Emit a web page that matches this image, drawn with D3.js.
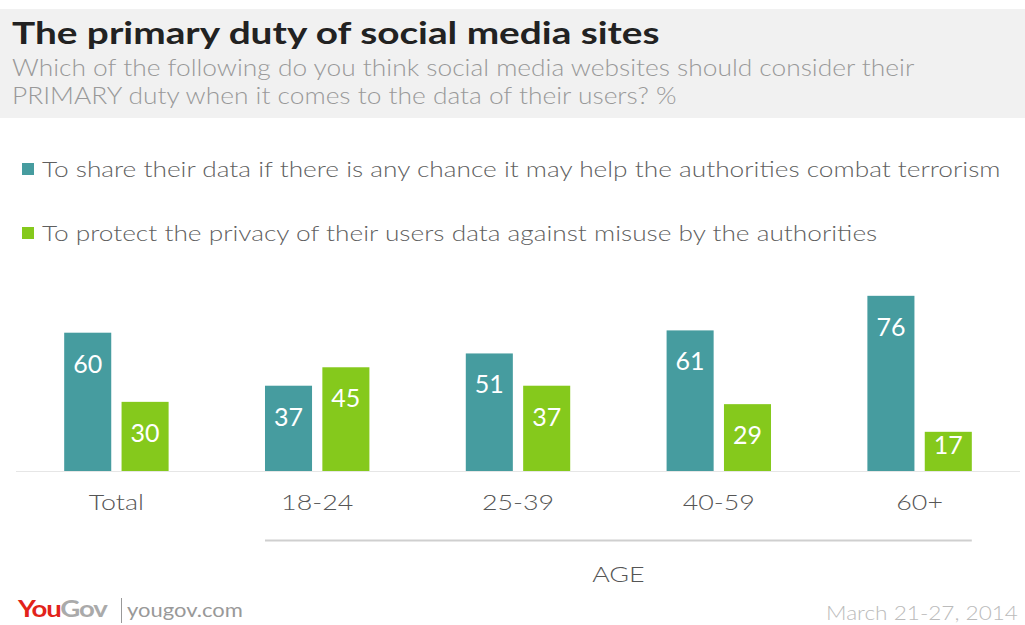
<!DOCTYPE html>
<html>
<head>
<meta charset="utf-8">
<script src="https://cdn.jsdelivr.net/npm/d3@7"></script>
<style>
  html, body { margin: 0; padding: 0; background: #fff; }
  svg { display: block; font-family: Lato, "Open Sans", sans-serif; }
</style>
</head>
<body>
<svg id="chart" width="1025" height="625"></svg>
<script>
// Survey results, % choosing each option
const categories = ["Total", "18-24", "25-39", "40-59", "60+"];
const seriesNames = [
  "To share their data if there is any chance it may help the authorities combat terrorism",
  "To protect the privacy of their users data against misuse by the authorities"
];
const shareData = [60, 37, 51, 61, 76];
const protectPrivacy = [30, 45, 37, 29, 17];
const ageGroups = ["18-24", "25-39", "40-59", "60+"];

const colors = ["#469c9f", "#85c91c"];

const svg = d3.select("#chart");
const W = 1025, H = 625;

// Widen text horizontally by a factor, keeping its height
function stretch(sel, factor) {
  sel.each(function () {
    const len = this.getComputedTextLength();
    d3.select(this).attr("textLength", len * factor).attr("lengthAdjust", "spacingAndGlyphs");
  });
  return sel;
}

// Header band
svg.append("rect").attr("x", 0).attr("y", 9).attr("width", W).attr("height", 109).attr("fill", "#f1f1f1");
stretch(svg.append("text").attr("x", 12).attr("y", 44)
  .attr("font-size", 31).attr("font-weight", 700).attr("fill", "#222")
  .text("The primary duty of social media sites"), 1.25);
stretch(svg.append("text").attr("x", 12).attr("y", 76)
  .attr("font-size", 22.5).attr("fill", "#999").attr("font-weight", 300)
  .text("Which of the following do you think social media websites should consider their"), 1.17);
stretch(svg.append("text").attr("x", 12).attr("y", 104)
  .attr("font-size", 22.5).attr("fill", "#999").attr("font-weight", 300)
  .text("PRIMARY duty when it comes to the data of their users? %"), 1.17);

// Legend
const legend = svg.append("g");
seriesNames.forEach((name, i) => {
  const y = 177 + i * 64;
  legend.append("rect").attr("x", 22).attr("y", y - 14).attr("width", 12).attr("height", 12).attr("fill", colors[i]);
  stretch(legend.append("text").attr("x", 42).attr("y", y)
    .attr("font-size", 21.5).attr("fill", "#5f5f5f").attr("font-weight", 300)
    .text(name), 1.222);
});

// Scales
const baseY = 471;
const x0 = d3.scaleBand().domain(categories).range([16, 1020]).paddingInner(0.48).paddingOuter(0.24);
const keys = ["share", "protect"];
const x1 = d3.scaleBand().domain(keys).range([0, x0.bandwidth()]).paddingInner(0.18);
const y = d3.scaleLinear().domain([0, 80]).range([baseY, baseY - 80 * 2.305]);

const rows = categories.map((c, i) => ({ cat: c, share: shareData[i], protect: protectPrivacy[i] }));

// Baseline
svg.append("line").attr("x1", 16).attr("x2", 1020).attr("y1", baseY + 0.5).attr("y2", baseY + 0.5)
  .attr("stroke", "#e6e6e6").attr("stroke-width", 1);

const groups = svg.append("g").selectAll("g").data(rows).join("g")
  .attr("transform", d => `translate(${x0(d.cat)},0)`);

groups.selectAll("rect").data(d => keys.map((k, i) => ({ k, v: d[k], i }))).join("rect")
  .attr("x", d => x1(d.k))
  .attr("y", d => y(d.v))
  .attr("width", x1.bandwidth())
  .attr("height", d => baseY - y(d.v))
  .attr("fill", d => colors[d.i]);

// Value labels inside the bars, kept above the baseline for short bars
groups.selectAll("text.val").data(d => keys.map((k, i) => ({ k, v: d[k], i }))).join("text")
  .attr("class", "val")
  .attr("x", d => x1(d.k) + x1.bandwidth() / 2)
  .attr("y", d => Math.min(y(d.v) + 40, baseY - 17))
  .attr("text-anchor", "middle")
  .attr("font-size", 25).attr("fill", "#fff")
  .text(d => d.v);

// Category labels
const xAxis = d3.axisBottom(x0).tickSize(0).tickPadding(0);
const axisG = svg.append("g").attr("transform", `translate(0,${baseY})`).call(xAxis);
axisG.select(".domain").remove();
stretch(axisG.selectAll("text")
  .attr("y", 39).attr("dy", null)
  .attr("font-family", "Lato, 'Open Sans', sans-serif")
  .attr("font-size", 22).attr("fill", "#555").attr("font-weight", 300), 1.22);

// AGE bracket
const ageStart = x0(ageGroups[0]);
const ageEnd = x0(ageGroups[ageGroups.length - 1]) + x0.bandwidth();
svg.append("line").attr("x1", ageStart).attr("x2", ageEnd).attr("y1", 540.5).attr("y2", 540.5)
  .attr("stroke", "#cfcfcf").attr("stroke-width", 2);
stretch(svg.append("text").attr("x", (ageStart + ageEnd) / 2).attr("y", 582)
  .attr("text-anchor", "middle").attr("font-size", 22).attr("fill", "#555").attr("font-weight", 300)
  .text("AGE"), 1.22);

// Footer
const logo = svg.append("text").attr("x", 18).attr("y", 617).attr("font-size", 23).attr("font-weight", 700)
  .attr("letter-spacing", -1);
logo.append("tspan").attr("fill", "#e2231a").text("You");
logo.append("tspan").attr("fill", "#aaa").text("Gov");
stretch(logo, 1.2);
svg.append("line").attr("x1", 121.5).attr("x2", 121.5).attr("y1", 598).attr("y2", 623)
  .attr("stroke", "#999").attr("stroke-width", 1);
stretch(svg.append("text").attr("x", 127).attr("y", 617).attr("font-size", 20).attr("fill", "#999").text("yougov.com"), 1.1);
stretch(svg.append("text").attr("x", 1018).attr("y", 620).attr("text-anchor", "end")
  .attr("font-size", 20).attr("fill", "#bbb").attr("font-weight", 300).text("March 21-27, 2014"), 1.13);
</script>
</body>
</html>
